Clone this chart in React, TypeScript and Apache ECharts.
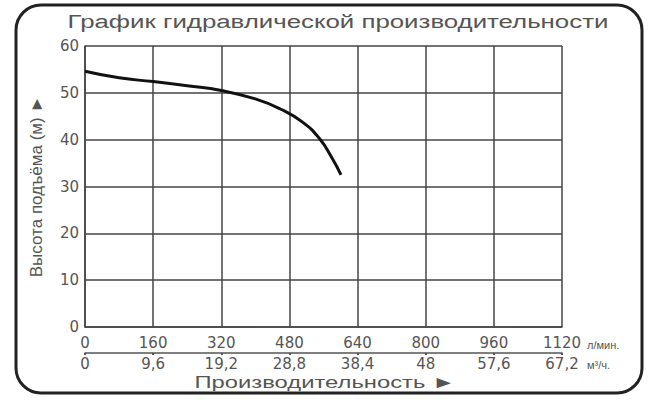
import React, { useEffect, useRef } from "react";
import * as echarts from "echarts";

const flowLpm: number[] = [0, 80, 160, 240, 320, 400, 460, 510, 550, 580, 601];
const headM: number[] = [54.6, 53.2, 52.4, 51.5, 50.5, 48.7, 46.5, 43.8, 40.3, 36.1, 32.5];
const xTicksMax = 1120;
const xInterval = 160;
const m3hFactor = 0.06;
const yMax = 60;
const yInterval = 10;
const titleText = "График гидравлической производительности";
const yName = "Высота подъёма (м) ►";
const xName = "Производительность ►";
const unit1 = "л/мин.";
const unit2 = "м³/ч.";

export default function App() {
  const ref = useRef<HTMLDivElement>(null);
  useEffect(() => {
    if (!ref.current) return;
    const chart = echarts.init(ref.current, undefined, { renderer: "svg" });
    const textColor = "#555";
    const gridColor = "#444";
    const font = "DejaVu Sans";
    chart.setOption({
      animation: false,
      backgroundColor: "#fff",
      grid: { left: 85, top: 46, width: 477, height: 281, containLabel: false },
      xAxis: [
        {
          type: "value",
          min: 0,
          max: xTicksMax,
          interval: xInterval,
          position: "bottom",
          axisLine: { show: true, lineStyle: { color: gridColor, width: 1.5 } },
          axisTick: { show: false },
          splitLine: { show: true, lineStyle: { color: gridColor, width: 1.5 } },
          axisLabel: {
            fontSize: 15,
            color: textColor,
            margin: 8,
            fontFamily: font,
            formatter: (v: number) => String(v),
          },
        },
        {
          type: "value",
          min: 0,
          max: xTicksMax,
          interval: xInterval,
          position: "bottom",
          offset: 26,
          axisLine: { show: true, onZero: false, lineStyle: { color: "#555", width: 1.5 } },
          axisTick: { show: true, length: 2, inside: false, lineStyle: { color: "#555", width: 2 } },
          splitLine: { show: false },
          axisLabel: {
            fontSize: 15,
            color: textColor,
            margin: 3,
            fontFamily: font,
            formatter: (v: number) => {
              const r = Math.round(v * m3hFactor * 10) / 10;
              return String(r).replace(".", ",");
            },
          },
        },
      ],
      yAxis: {
        type: "value",
        min: 0,
        max: yMax,
        interval: yInterval,
        name: yName,
        nameLocation: "middle",
        nameRotate: 90,
        nameGap: 40,
        nameTextStyle: { fontSize: 17, color: textColor, fontFamily: "Liberation Sans" },
        axisLine: { show: true, lineStyle: { color: gridColor, width: 1.5 } },
        axisTick: { show: false },
        splitLine: { show: true, lineStyle: { color: gridColor, width: 1.5 } },
        axisLabel: { fontSize: 15, color: textColor, margin: 6, fontFamily: font },
      },
      series: [
        {
          type: "line",
          xAxisIndex: 0,
          data: flowLpm.map((x, i) => [x, headM[i]]),
          smooth: 0.5,
          symbol: "none",
          lineStyle: { color: "#111", width: 3 },
        },
      ],
      graphic: [
        {
          type: "rect",
          shape: { x: 16, y: 5, width: 626, height: 388, r: 25 },
          style: { fill: "none", stroke: "#222", lineWidth: 3 },
          silent: true,
        },
        {
          type: "text",
          x: 338,
          y: 21,
          scaleX: 1.36,
          style: {
            text: titleText,
            fontSize: 19,
            fontFamily: "Liberation Sans",
            fill: "#555",
            textAlign: "center",
            textVerticalAlign: "middle",
          },
        },
        {
          type: "text",
          x: 325,
          y: 382,
          scaleX: 1.4,
          style: {
            text: xName,
            fontSize: 17,
            fontFamily: "Liberation Sans",
            fill: "#555",
            textAlign: "center",
            textVerticalAlign: "middle",
          },
        },
        {
          type: "text",
          x: 587,
          y: 345,
          style: {
            text: unit1,
            fontSize: 11,
            fontFamily: "Liberation Sans",
            fill: "#555",
            textAlign: "left",
            textVerticalAlign: "middle",
          },
        },
        {
          type: "text",
          x: 587,
          y: 365,
          style: {
            text: unit2,
            fontSize: 11,
            fontFamily: "Liberation Sans",
            fill: "#555",
            textAlign: "left",
            textVerticalAlign: "middle",
          },
        },
      ],
    });
    return () => chart.dispose();
  }, []);
  return (
    <div
      ref={ref}
      style={{ position: "fixed", left: 0, top: 0, width: 660, height: 401 }}
    />
  );
}
